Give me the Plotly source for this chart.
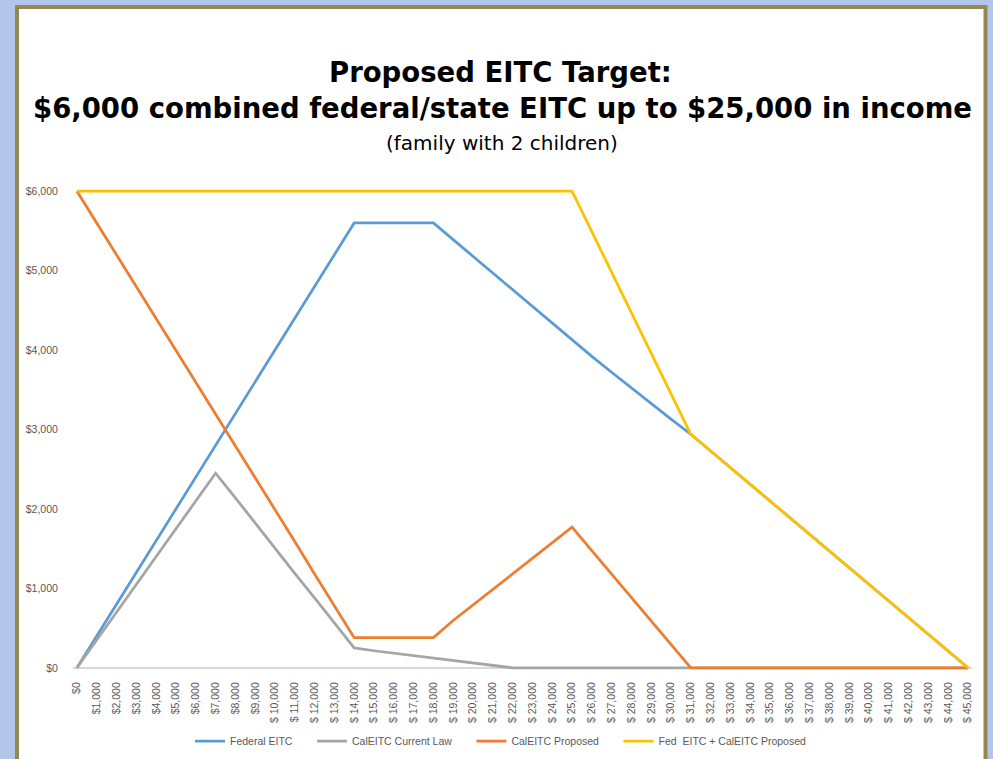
import plotly.graph_objects as go

# income categories ($0 .. $45,000 in $1,000 steps), labelled as in the source chart
income = ["$0", "$1,000", "$2,000", "$3,000", "$4,000", "$5,000", "$6,000", "$7,000",
          "$8,000", "$9,000", "$ 10,000", "$ 11,000", "$ 12,000", "$ 13,000", "$ 14,000",
          "$ 15,000", "$ 16,000", "$ 17,000", "$ 18,000", "$ 19,000", "$ 20,000", "$ 21,000",
          "$ 22,000", "$ 23,000", "$ 24,000", "$ 25,000", "$ 26,000", "$ 27,000", "$ 28,000",
          "$ 29,000", "$ 30,000", "$ 31,000", "$ 32,000", "$ 33,000", "$ 34,000", "$ 35,000",
          "$ 36,000", "$ 37,000", "$ 38,000", "$ 39,000", "$ 40,000", "$ 41,000", "$ 42,000",
          "$ 43,000", "$ 44,000", "$ 45,000"]

federal_eitc = [0, 400, 800, 1200, 1600, 2000, 2400, 2800, 3200, 3600, 4000, 4400, 4800, 5200,
                5600, 5600, 5600, 5600, 5600, 5390, 5180, 4970, 4760, 4550, 4340, 4120, 3920,
                3720, 3520, 3320, 3130, 2940, 2730, 2520, 2310, 2100, 1890, 1680, 1470, 1260,
                1050, 840, 630, 420, 210, 0]

caleitc_current = [0, 350, 700, 1050, 1400, 1750, 2100, 2450, 2140, 1820, 1510, 1190, 880, 560,
                   250, 215, 185, 155, 125, 95, 60, 30, 0, 0, 0, 0, 0, 0, 0, 0, 0, 0, 0, 0, 0,
                   0, 0, 0, 0, 0, 0, 0, 0, 0, 0, 0]

caleitc_proposed = [6000, 5600, 5200, 4800, 4400, 3990, 3590, 3190, 2790, 2390, 1990, 1590, 1180,
                    780, 380, 380, 380, 380, 380, 596, 791, 987, 1183, 1379, 1574, 1770, 1475,
                    1180, 885, 590, 295, 0, 0, 0, 0, 0, 0, 0, 0, 0, 0, 0, 0, 0, 0, 0]

fed_plus_cal = [6000, 6000, 6000, 6000, 6000, 6000, 6000, 6000, 6000, 6000, 6000, 6000, 6000,
                6000, 6000, 6000, 6000, 6000, 6000, 6000, 6000, 6000, 6000, 6000, 6000, 6000,
                5490, 4980, 4470, 3960, 3450, 2940, 2730, 2520, 2310, 2100, 1890, 1680, 1470,
                1260, 1050, 840, 630, 420, 210, 0]

series = [
    ("Federal EITC", federal_eitc, "#5B9BD5"),
    ("CalEITC Current Law", caleitc_current, "#A5A5A5"),
    ("CalEITC Proposed", caleitc_proposed, "#ED7D31"),
    ("Fed  EITC + CalEITC Proposed", fed_plus_cal, "#FFC000"),
]

fig = go.Figure()
for name, vals, col in series:
    fig.add_trace(go.Scatter(
        x=income, y=vals, mode="lines",
        name=name + "\u00a0" * 5,
        line=dict(color=col, width=2.75),
    ))

# plot area in pixels: x 73..972, y 188..671
W, H = 993, 759
PL, PR, PT, PB = 73, 972, 188, 671
def px_x(v):
    return (v - PL) / (PR - PL)
def px_y(v):
    return (PB - v) / (PB - PT)

fig.update_layout(
    width=W, height=H,
    # autoexpand off so the legend cannot push the plot area up
    margin=dict(l=PL, r=W - PR, t=PT, b=H - PB, autoexpand=False),
    paper_bgcolor="#B3C6EA",
    plot_bgcolor="rgba(0,0,0,0)",
    font=dict(family="Liberation Sans, Arial", color="#595959"),
    showlegend=True,
    legend=dict(orientation="h", xref="container", yref="container",
                x=508 / W, y=1 - 741 / H, xanchor="center", yanchor="middle",
                font=dict(size=10.5, color="#595959"), itemwidth=30,
                bgcolor="rgba(0,0,0,0)"),
    xaxis=dict(type="category", range=[-0.2, 45.2], showgrid=False, showline=False,
               zeroline=False, tickangle=-90, ticks="outside", ticklen=6,
               tickcolor="rgba(0,0,0,0)", tickfont=dict(size=10.5, color="#595959")),
    yaxis=dict(range=[-40, 6040], tickvals=[0, 1000, 2000, 3000, 4000, 5000, 6000],
               tickformat="$,.0f", showgrid=False, showline=False,
               zeroline=True, zerolinecolor="#D9D9D9", zerolinewidth=1.5,
               ticks="outside", ticklen=12, tickcolor="rgba(0,0,0,0)",
               tickfont=dict(size=10.5, color="#595959")),
    shapes=[dict(type="rect", xref="paper", yref="paper", layer="below",
                 x0=px_x(17), x1=px_x(985.5), y0=px_y(790), y1=px_y(7),
                 fillcolor="white", line=dict(color="#938953", width=4))],
    annotations=[
        dict(text="<b>Proposed EITC Target:</b>", xref="paper", yref="paper",
             x=px_x(500), y=px_y(72), showarrow=False, xanchor="center", yanchor="middle",
             font=dict(family="DejaVu Sans", size=27.5, color="black")),
        dict(text="<b>$6,000 combined federal/state EITC up to $25,000 in income</b>",
             xref="paper", yref="paper", x=px_x(502), y=px_y(108), showarrow=False,
             xanchor="center", yanchor="middle",
             font=dict(family="DejaVu Sans", size=27.5, color="black")),
        dict(text="(family with 2 children)", xref="paper", yref="paper",
             x=px_x(502), y=px_y(143), showarrow=False, xanchor="center", yanchor="middle",
             font=dict(family="DejaVu Sans", size=20, color="black")),
    ],
)

fig.write_html("out.html", config={"displayModeBar": False},
               post_script="document.body.style.margin='0';")
